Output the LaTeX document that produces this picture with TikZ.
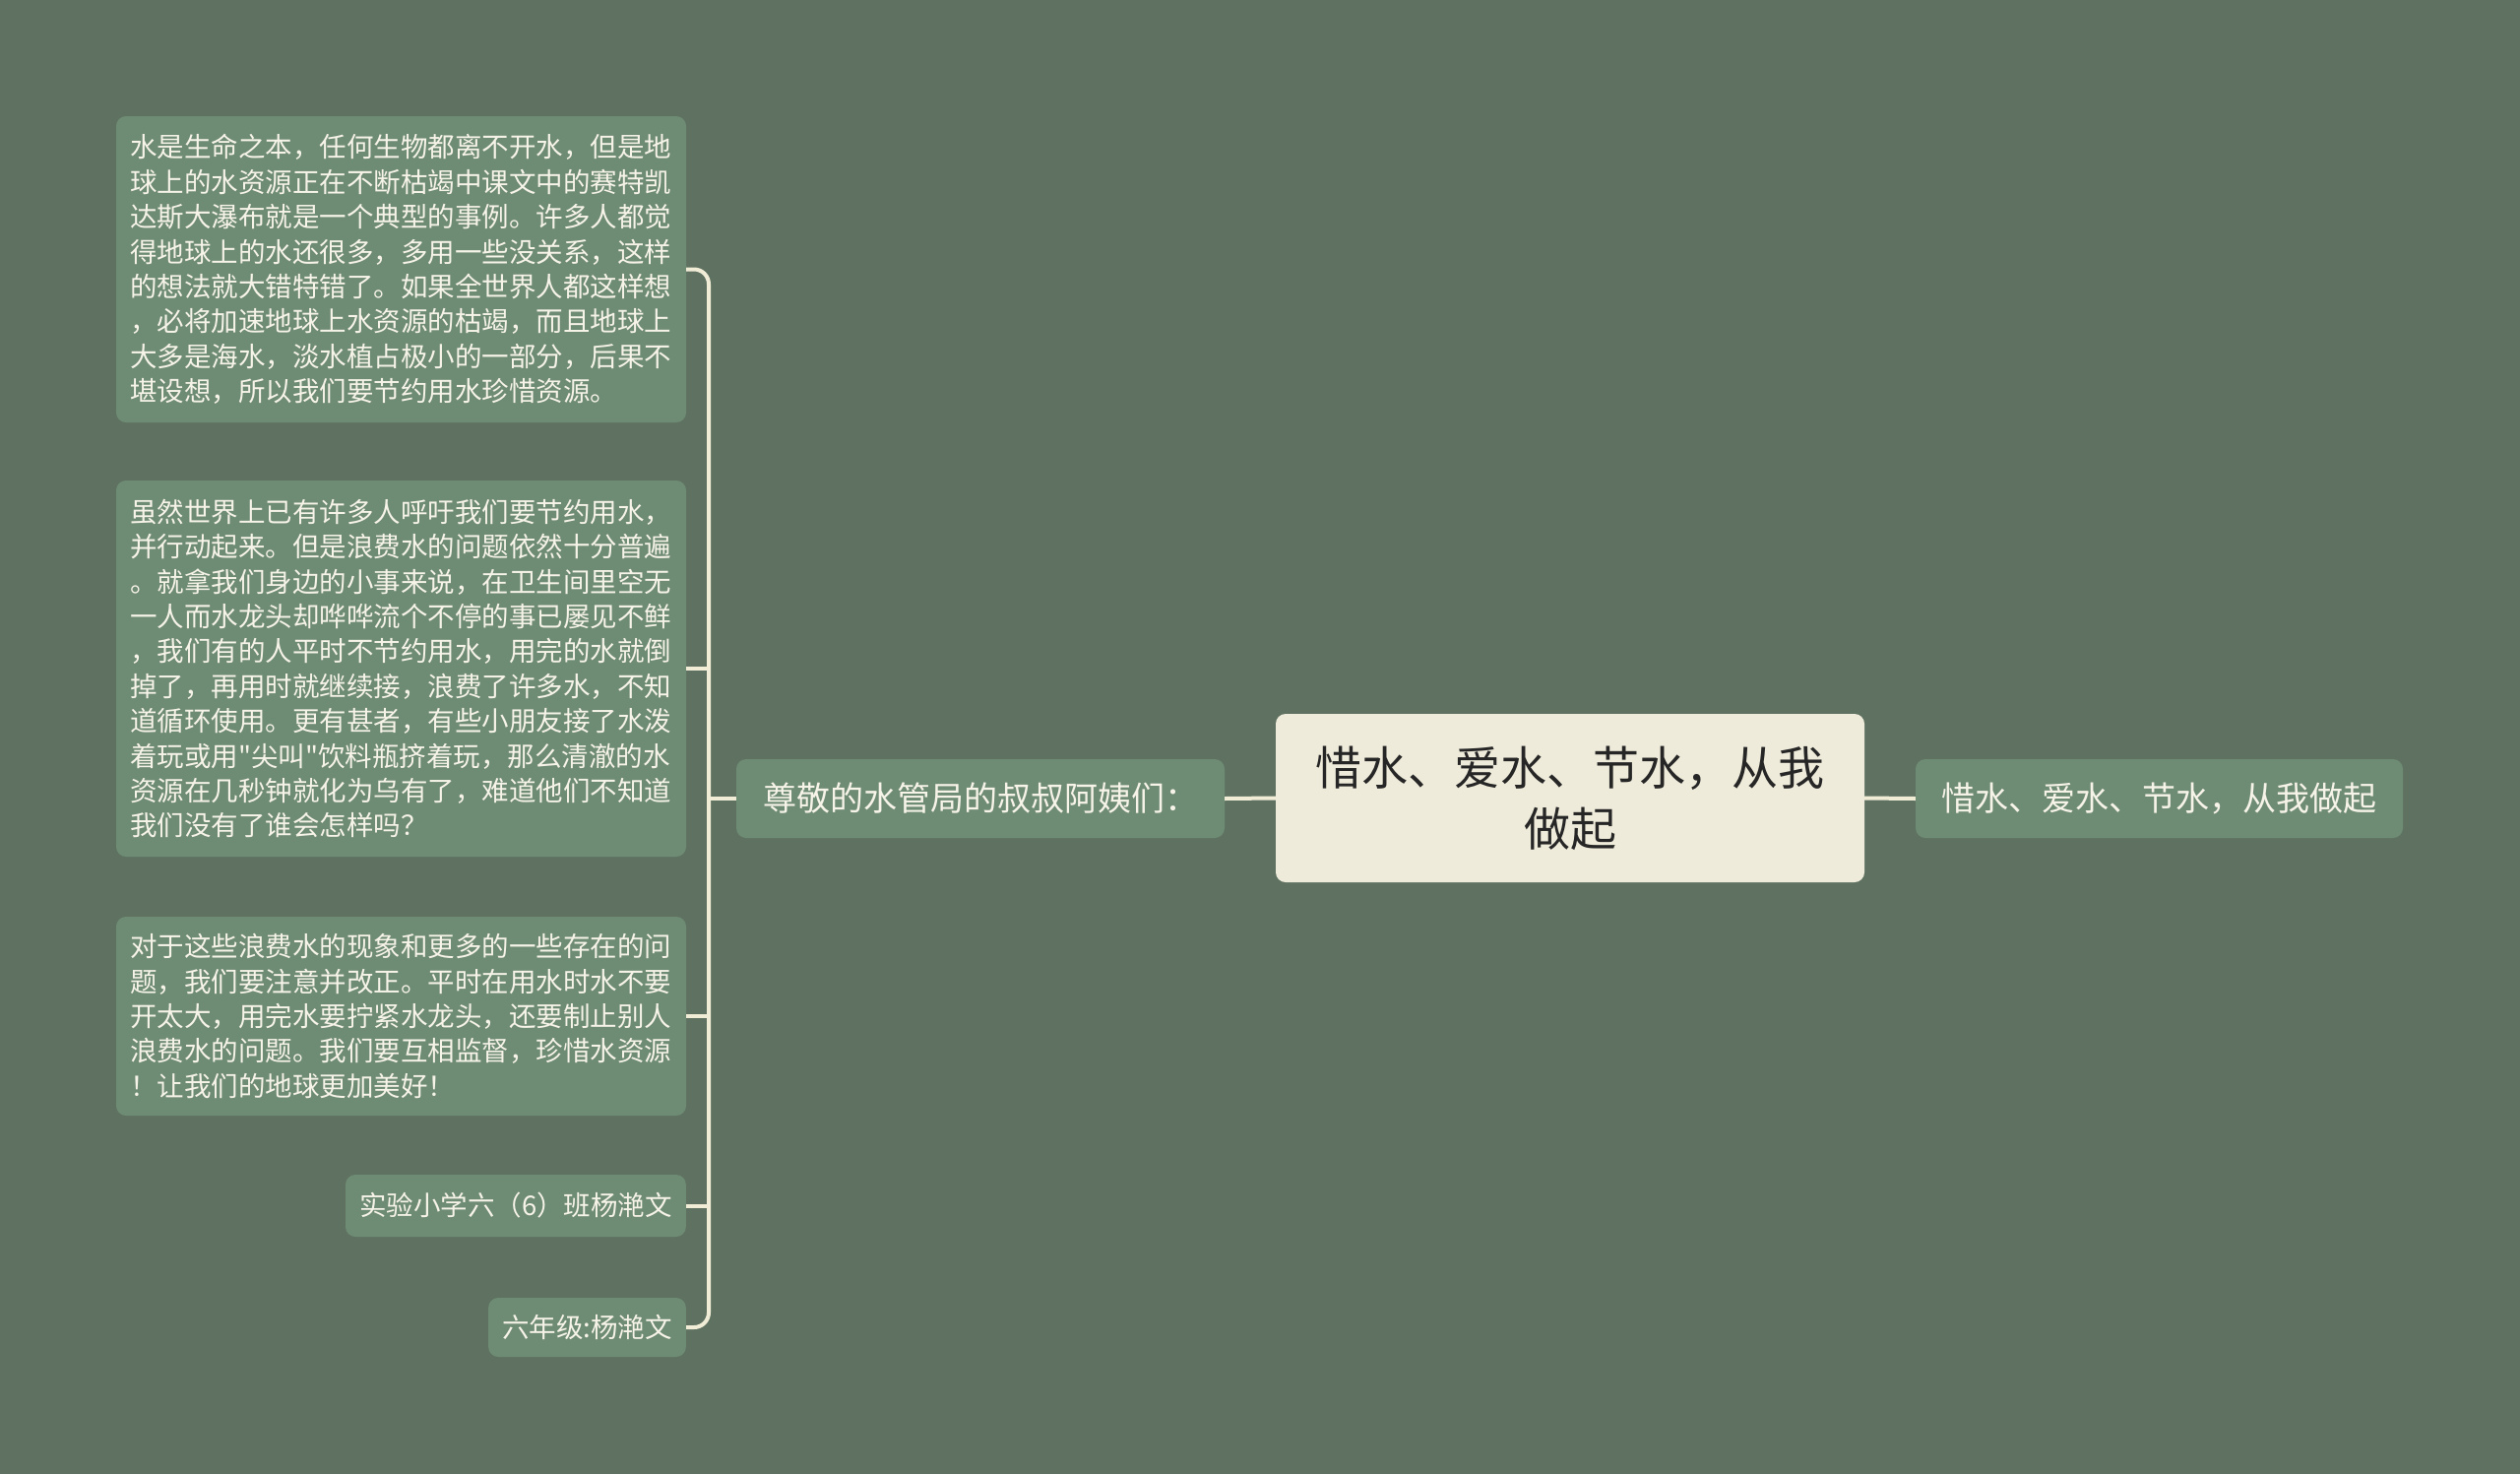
\documentclass[tikz,border=0pt]{standalone}
\usepackage{fontspec}
\setmainfont{Noto Sans CJK SC}
\newfontfamily\qfont{Noto Sans CJK SC}[Ligatures=TeXOff]
\definecolor{bgc}{HTML}{5F7262}
\definecolor{boxc}{HTML}{6E8B74}
\definecolor{centc}{HTML}{EFEBDA}
\definecolor{linec}{HTML}{F0ECD6}
\definecolor{txtc}{HTML}{F6F3E8}
\definecolor{darktxt}{HTML}{262626}
\tikzset{
  leafbox/.style={fill=boxc, rounded corners=10pt, text=txtc, inner xsep=14pt, inner ysep=0pt,
    font=\fontsize{27.5}{35.4}\selectfont, align=left},
  branchbox/.style={fill=boxc, rounded corners=10pt, text=txtc, inner xsep=0pt, inner ysep=0pt,
    font=\fontsize{34}{42}\selectfont, minimum width=496pt, minimum height=80pt},
  centbox/.style={fill=centc, rounded corners=10pt, text=darktxt, inner sep=0pt, align=center,
    font=\fontsize{47}{62}\selectfont, minimum width=598pt, minimum height=171pt},
  conn/.style={draw=linec, line width=4pt}
}
\begin{document}
\begin{tikzpicture}[x=1pt,y=-1pt]
\useasboundingbox[fill=bgc] (0,0) rectangle (2560,1497);

\node[leafbox, text width=551pt, minimum height=311pt] (b1) at (407.5,273.5) {水是生命之本，任何生物都离不开水，但是地\\球上的水资源正在不断枯竭中课文中的赛特凯\\达斯大瀑布就是一个典型的事例。许多人都觉\\得地球上的水还很多，多用一些没关系，这样\\的想法就大错特错了。如果全世界人都这样想\\，必将加速地球上水资源的枯竭，而且地球上\\大多是海水，淡水植占极小的一部分，后果不\\堪设想，所以我们要节约用水珍惜资源。};

\node[leafbox, text width=551pt, minimum height=382pt] (b2) at (407.5,679) {虽然世界上已有许多人呼吁我们要节约用水，\\并行动起来。但是浪费水的问题依然十分普遍\\。就拿我们身边的小事来说，在卫生间里空无\\一人而水龙头却哗哗流个不停的事已屡见不鲜\\，我们有的人平时不节约用水，用完的水就倒\\掉了，再用时就继续接，浪费了许多水，不知\\道循环使用。更有甚者，有些小朋友接了水泼\\着玩或用{\qfont "}尖叫{\qfont "}饮料瓶挤着玩，那么清澈的水\\资源在几秒钟就化为乌有了，难道他们不知道\\我们没有了谁会怎样吗？};

\node[leafbox, text width=551pt, minimum height=202pt] (b3) at (407.5,1032) {对于这些浪费水的现象和更多的一些存在的问\\题，我们要注意并改正。平时在用水时水不要\\开太大，用完水要拧紧水龙头，还要制止别人\\浪费水的问题。我们要互相监督，珍惜水资源\\！让我们的地球更加美好！};

\node[leafbox, minimum height=63pt, anchor=east] (b4) at (697,1224.5) {实验小学六（6）班杨滟文};

\node[leafbox, minimum height=60pt, anchor=east] (b5) at (697,1348) {六年级:杨滟文};

\node[branchbox] (lb) at (996,811) {尊敬的水管局的叔叔阿姨们：};
\node[centbox] (c) at (1595,810.5) {惜水、爱水、节水，从我\\做起};
\node[branchbox, minimum width=495pt] (rb) at (2193.5,811) {惜水、爱水、节水，从我做起};

\coordinate (spine) at (720,811);

\draw[conn, rounded corners=15pt] (b1.east) -| (spine |- b5.east) -- (b5.east);
\draw[conn] (b2.east) -- (b2.east -| spine);
\draw[conn] (b3.east) -- (b3.east -| spine);
\draw[conn] (b4.east) -- (b4.east -| spine);
\draw[conn] (lb.west) -- (spine);
\draw[conn] (lb.east) -- (c.west);
\draw[conn] (c.east) -- (rb.west);
\end{tikzpicture}
\end{document}
